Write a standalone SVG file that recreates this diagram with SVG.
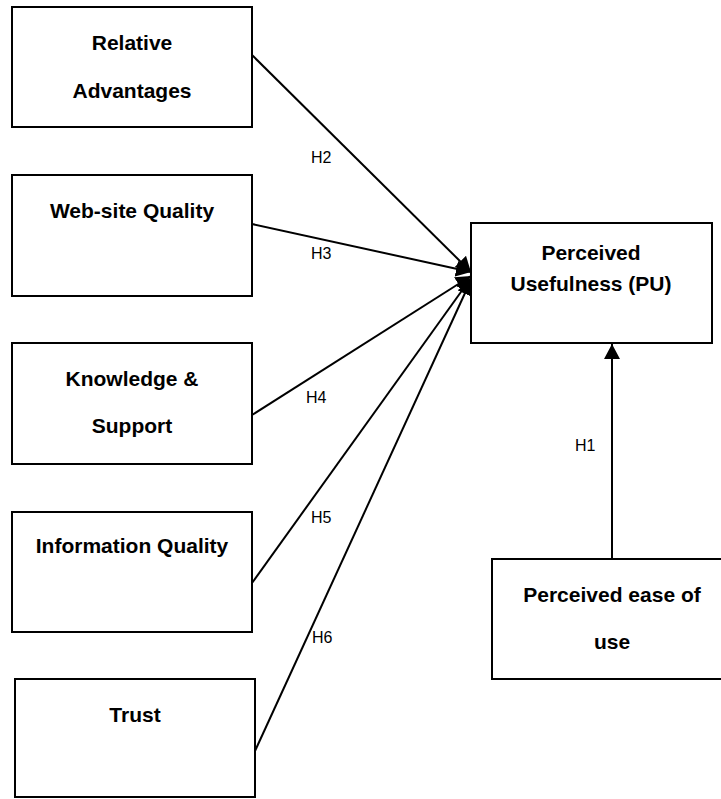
<svg xmlns="http://www.w3.org/2000/svg" width="721" height="799" viewBox="0 0 721 799">
<style>
.box{fill:#fff;stroke:#000;stroke-width:2}
.t{font-family:"Liberation Sans",Arial,sans-serif;font-weight:bold;font-size:21px;text-anchor:middle;fill:#000}
.lbl{font-family:"Liberation Sans",Arial,sans-serif;font-size:16px;fill:#000}
.c{stroke:#000;stroke-width:2;fill:none;marker-end:url(#arr)}
</style>
<defs>
<marker id="arr" markerUnits="userSpaceOnUse" markerWidth="16" markerHeight="16" refX="15" refY="8" orient="auto">
<path d="M0,0 L15,8 L0,16 Z" fill="#000"/>
</marker>
</defs>
<rect width="721" height="799" fill="#fff"/>
<g id="connectors">
<line class="c" x1="252" y1="55" x2="471" y2="272"/>
<line class="c" x1="252" y1="224" x2="471" y2="272"/>
<line class="c" x1="252" y1="415" x2="471" y2="276"/>
<line class="c" x1="252" y1="583" x2="471" y2="278"/>
<line class="c" x1="255" y1="751" x2="471" y2="280"/>
<line class="c" x1="612" y1="559" x2="612" y2="344"/>
<text class="lbl" x="311" y="163">H2</text>
<text class="lbl" x="311" y="259">H3</text>
<text class="lbl" x="306" y="403">H4</text>
<text class="lbl" x="311" y="523">H5</text>
<text class="lbl" x="312" y="643">H6</text>
<text class="lbl" x="575" y="451">H1</text>
</g>
<g id="relative-advantages">
<rect class="box" x="12" y="7" width="240" height="120"/>
<text class="t" x="132" y="50">Relative</text>
<text class="t" x="132" y="98">Advantages</text>
</g>
<g id="website-quality">
<rect class="box" x="12" y="175" width="240" height="121"/>
<text class="t" x="132" y="218">Web-site Quality</text>
</g>
<g id="knowledge-support">
<rect class="box" x="12" y="343" width="240" height="121"/>
<text class="t" x="132" y="386">Knowledge &amp;</text>
<text class="t" x="132" y="433">Support</text>
</g>
<g id="information-quality">
<rect class="box" x="12" y="512" width="240" height="120"/>
<text class="t" x="132" y="553">Information Quality</text>
</g>
<g id="trust">
<rect class="box" x="15" y="679" width="240" height="118"/>
<text class="t" x="135" y="722">Trust</text>
</g>
<g id="perceived-usefulness">
<rect class="box" x="471" y="223" width="241" height="120"/>
<text class="t" x="591" y="260">Perceived</text>
<text class="t" x="591" y="291">Usefulness (PU)</text>
</g>
<g id="perceived-ease-of-use">
<rect class="box" x="492" y="559" width="240" height="120"/>
<text class="t" x="612" y="602">Perceived ease of</text>
<text class="t" x="612" y="649">use</text>
</g>
</svg>
